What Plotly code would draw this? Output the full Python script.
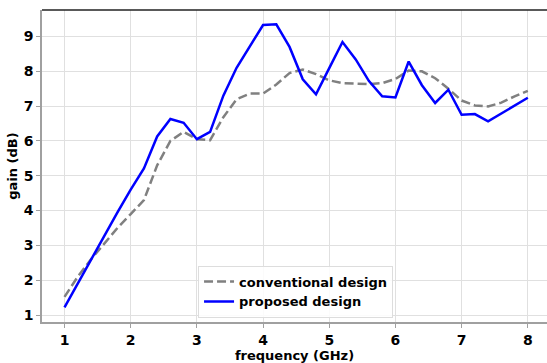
import plotly.graph_objects as go

freq = [1.0, 1.2, 1.4, 1.6, 1.8, 2.0, 2.2, 2.4, 2.6, 2.8, 3.0, 3.2, 3.4, 3.6, 3.8,
        4.0, 4.2, 4.4, 4.6, 4.8, 5.0, 5.2, 5.4, 5.6, 5.8, 6.0, 6.2, 6.4, 6.6, 6.8,
        7.0, 7.2, 7.4, 7.6, 7.8, 8.0]
conventional = [1.52, 2.1, 2.6, 3.05, 3.5, 3.9, 4.3, 5.3, 6.0, 6.26, 6.05, 6.02, 6.68, 7.2, 7.36,
                7.36, 7.62, 7.95, 8.05, 7.92, 7.74, 7.66, 7.64, 7.63, 7.66, 7.78, 8.02, 8.0, 7.8, 7.5,
                7.16, 7.02, 6.99, 7.1, 7.28, 7.44]
proposed = [1.22, 1.9, 2.6, 3.3, 3.95, 4.6, 5.21, 6.13, 6.63, 6.52, 6.05, 6.26, 7.3, 8.1, 8.72,
            9.33, 9.35, 8.7, 7.77, 7.34, 8.09, 8.84, 8.34, 7.72, 7.28, 7.25, 8.28, 7.6, 7.09, 7.47,
            6.75, 6.77, 6.56, 6.78, 7.0, 7.24]

x_ticks = [1, 2, 3, 4, 5, 6, 7, 8]
y_ticks = [1, 2, 3, 4, 5, 6, 7, 8, 9]

tick_font = dict(family="DejaVu Sans", size=14, color="black", weight="bold")
text_font = dict(family="DejaVu Sans", size=13, color="black", weight="bold")

fig = go.Figure()
fig.add_trace(go.Scatter(x=freq, y=conventional, mode="lines", name="conventional design",
                         line=dict(color="#808080", width=2.5, dash="9px,4px")))
fig.add_trace(go.Scatter(x=freq, y=proposed, mode="lines", name="proposed design",
                         line=dict(color="#0000ff", width=2.5)))

fig.update_layout(
    width=547, height=363,
    margin=dict(l=42, r=0, t=10, b=38),
    paper_bgcolor="white", plot_bgcolor="white",
    font=text_font,
    showlegend=True,
    legend=dict(x=0.309, y=0.181, xanchor="left", yanchor="top",
                bgcolor="rgba(255,255,255,0.85)", bordercolor="#dddddd", borderwidth=1,
                font=text_font, tracegroupgap=2, itemwidth=30),
    xaxis=dict(range=[0.66, 8.29], tickvals=x_ticks, ticktext=[str(v) for v in x_ticks],
               showgrid=True, gridcolor="#e0e0e0", gridwidth=1,
               showline=True, linecolor="#a0a0a0", linewidth=2,
               ticks="outside", ticklen=4, tickcolor="#a0a0a0",
               zeroline=False,
               title=dict(text="frequency (GHz)", standoff=6, font=text_font),
               tickfont=tick_font),
    yaxis=dict(range=[0.80, 9.76], tickvals=y_ticks, ticktext=[str(v) for v in y_ticks],
               showgrid=True, gridcolor="#e0e0e0", gridwidth=1,
               showline=True, linecolor="#a0a0a0", linewidth=1.5,
               ticks="outside", ticklen=4, tickcolor="#a0a0a0",
               zeroline=False,
               title=dict(text="gain (dB)", standoff=3, font=text_font),
               tickfont=tick_font),
)

fig.add_shape(type="line", xref="paper", yref="paper", x0=0, x1=1, y0=1, y1=1,
              line=dict(color="#222222", width=1.5))

fig.write_html("out.html")
